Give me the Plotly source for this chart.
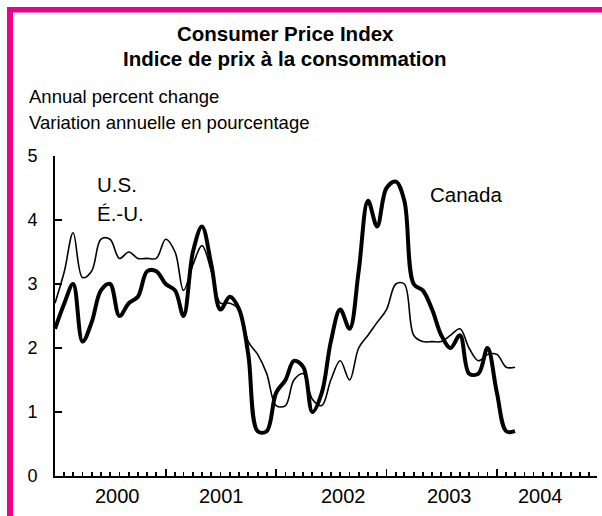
import plotly.graph_objects as go

# ---- data (Jan 2000 .. Mar 2004, monthly, annual % change) ----
months = [f"{y}-{m:02d}-01" for y in range(2000, 2005) for m in range(1, 13)][:51]

canada = [2.3, 2.7, 3.0, 2.1, 2.4, 2.9, 3.0, 2.5, 2.7, 2.8, 3.2, 3.2,
          3.0, 2.9, 2.5, 3.5, 3.9, 3.3, 2.6, 2.8, 2.6, 1.9, 0.7, 0.7,
          1.3, 1.5, 1.8, 1.7, 1.0, 1.3, 2.1, 2.6, 2.3, 3.2, 4.3, 3.9,
          4.5, 4.6, 4.3, 3.0, 2.9, 2.6, 2.2, 2.0, 2.2, 1.6, 1.6, 2.0,
          1.3, 0.7, 0.7]

us = [2.7, 3.2, 3.8, 3.1, 3.2, 3.7, 3.7, 3.4, 3.5, 3.4, 3.4, 3.4,
      3.7, 3.5, 2.9, 3.3, 3.6, 3.2, 2.7, 2.7, 2.6, 2.1, 1.9, 1.6,
      1.1, 1.1, 1.5, 1.6, 1.2, 1.1, 1.5, 1.8, 1.5, 2.0, 2.2, 2.4,
      2.6, 3.0, 3.0, 2.2, 2.1, 2.1, 2.1, 2.2, 2.3, 2.0, 1.8, 1.9,
      1.9, 1.7, 1.7]

year_labels = ["2000", "2001", "2002", "2003", "2004"]
year_label_pos = ["2000-07-24", "2001-07-06", "2002-08-11", "2003-07-29", "2004-05-25"]
year_starts = ["2001-01-01", "2002-01-01", "2003-01-01", "2004-01-01"]
y_ticks = [0, 1, 2, 3, 4, 5]

title_lines = ["Consumer Price Index", "Indice de prix à la consommation"]
subtitle_lines = ["Annual percent change", "Variation annuelle en pourcentage"]

FONT = "Liberation Sans, Arial, sans-serif"
PINK = "#EC008C"

# ---- geometry helpers (pixel -> paper) ----
W, H = 602, 516
L, R, T, B = 55, 5, 156, 40
PW, PH = W - L - R, H - T - B


def px(x):
    return (x - L) / PW


def py(y):
    return (H - B - y) / PH


x_range = ["2000-01-01", "2004-11-27"]

fig = go.Figure()
fig.add_trace(go.Scatter(x=months, y=us, mode="lines",
                         line=dict(color="black", width=1.6, shape="spline", smoothing=1),
                         showlegend=False, hoverinfo="skip"))
fig.add_trace(go.Scatter(x=months, y=canada, mode="lines",
                         line=dict(color="black", width=4, shape="spline", smoothing=1),
                         showlegend=False, hoverinfo="skip"))
# invisible trace carrying the year-boundary tick axis
fig.add_trace(go.Scatter(x=[months[0], months[-1]], y=[0, 0], xaxis="x2", mode="lines",
                         line=dict(width=0, color="rgba(0,0,0,0)"),
                         showlegend=False, hoverinfo="skip"))

annotations = []
annotations.append(dict(text="<b>%s</b>" % title_lines[0], x=px(285), y=py(33.4),
                        font=dict(size=20.5), xanchor="center"))
annotations.append(dict(text="<b>%s</b>" % title_lines[1], x=px(285), y=py(59),
                        font=dict(size=20.5), xanchor="center"))
annotations.append(dict(text=subtitle_lines[0], x=px(27), y=py(96),
                        font=dict(size=18.5), xanchor="left"))
annotations.append(dict(text=subtitle_lines[1], x=px(27), y=py(122),
                        font=dict(size=18.5), xanchor="left"))
annotations.append(dict(text="U.S.", x=px(95), y=py(184.2),
                        font=dict(size=20.5), xanchor="left"))
annotations.append(dict(text="É.-U.", x=px(95), y=py(213.3),
                        font=dict(size=20.5), xanchor="left"))
annotations.append(dict(text="Canada", x=px(428), y=py(194.7),
                        font=dict(size=20.5), xanchor="left"))
for a in annotations:
    a.update(xref="paper", yref="paper", yanchor="middle", showarrow=False)
for lab, pos in zip(year_labels, year_label_pos):
    annotations.append(dict(text=lab, x=pos, xref="x", y=py(496), yref="paper",
                            xanchor="center", yanchor="middle", showarrow=False,
                            font=dict(size=20)))
for a in annotations:
    a["font"].update(family=FONT, color="black")

shapes = [
    dict(type="rect", xref="paper", yref="paper", x0=px(7), x1=px(13), y0=py(7), y1=py(530),
         fillcolor=PINK, line=dict(width=0), layer="above"),
    dict(type="rect", xref="paper", yref="paper", x0=px(7), x1=px(610), y0=py(7), y1=py(12.5),
         fillcolor=PINK, line=dict(width=0), layer="above"),
]

fig.update_layout(
    template="none",
    width=W, height=H,
    margin=dict(l=L, r=R, t=T, b=B, pad=0, autoexpand=False),
    paper_bgcolor="white", plot_bgcolor="white",
    font=dict(family=FONT, color="black"),
    showlegend=False,
    annotations=annotations,
    shapes=shapes,
    xaxis=dict(type="date", range=x_range, tickmode="linear", tick0="2000-01-01", dtick="M1",
               ticks="inside", ticklen=4, tickwidth=1.8, tickcolor="black",
               showticklabels=False, showgrid=False, zeroline=False, automargin=False,
               showline=True, linecolor="black", linewidth=2),
    xaxis2=dict(type="date", range=x_range, overlaying="x", anchor="y", side="bottom",
                tickmode="array", tickvals=year_starts, ticks="inside", ticklen=7,
                tickwidth=1.8, tickcolor="black", showticklabels=False, automargin=False,
                showgrid=False, zeroline=False, showline=False),
    yaxis=dict(range=[0, 5], tickmode="array", tickvals=y_ticks,
               ticks="inside", ticklen=7, tickwidth=1.8, tickcolor="black",
               showgrid=False, zeroline=False, automargin=False,
               showline=True, linecolor="black", linewidth=2,
               tickfont=dict(size=18, family=FONT, color="black"),
               ticklabelstandoff=12),
)

fig.write_html("out.html",
               config={"displayModeBar": False, "staticPlot": True},
               post_script="document.body.style.margin='0';document.body.style.padding='0';")
